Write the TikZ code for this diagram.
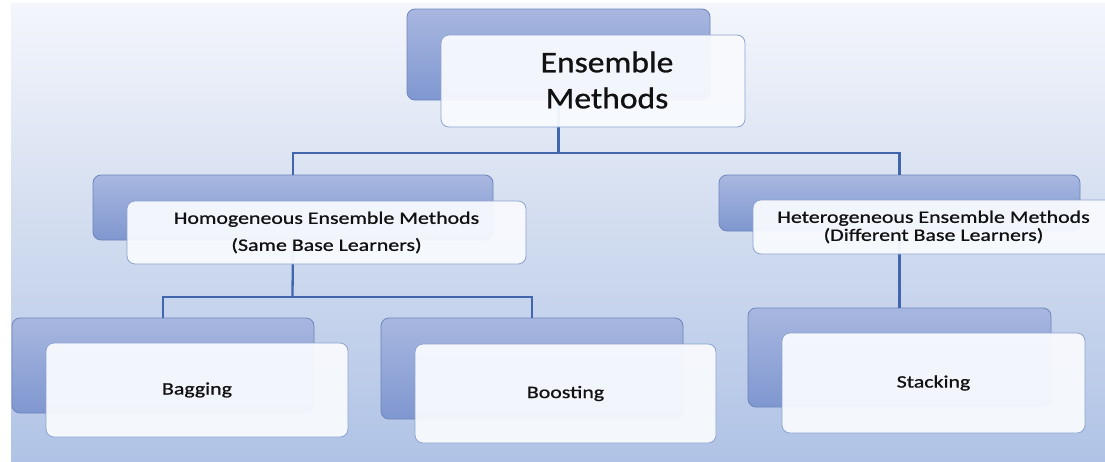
\documentclass[tikz,border=0pt]{standalone}
\usepackage{fontspec}
\setmainfont{Carlito}[FakeStretch=1.25, FakeBold=0.9]
\newfontfamily\rootfont{Carlito}[FakeStretch=1.12, FakeBold=0.9]
\definecolor{bgtop}{HTML}{F4F6FC}
\definecolor{bgmid}{HTML}{D1DCEF}
\definecolor{bgbot}{HTML}{B0C3E6}
\definecolor{backtop}{HTML}{A8B7E0}
\definecolor{backbot}{HTML}{7F97D0}
\definecolor{backline}{HTML}{6E84BA}
\definecolor{frontfill}{HTML}{F8FAFE}
\definecolor{frontline}{HTML}{8DA3D0}
\definecolor{connc}{HTML}{4266AE}
\definecolor{txt}{HTML}{111111}
\tikzset{
  backbox/.style={rectangle, rounded corners=8pt, draw=backline, line width=0.8pt,
    top color=backtop, bottom color=backbot, inner sep=0pt, outer sep=0pt, anchor=north west},
  frontbox/.style={rectangle, rounded corners=8pt, draw=frontline, line width=0.8pt,
    fill=frontfill, fill opacity=0.95, text opacity=1, text=txt, inner sep=0pt, outer sep=0pt,
    anchor=north west, align=center},
  conn/.style={draw=connc, line width=2.3pt},
  small/.style={font=\fontsize{17.5}{27}\selectfont},
}
\begin{document}
\begin{tikzpicture}[x=1pt,y=-1pt]
\useasboundingbox (0,0) rectangle (1105,461);
\clip (0,0) rectangle (1105,461);
\shade[top color=bgtop, bottom color=bgbot, middle color=bgmid] (11,3) rectangle (1105,461);

% back boxes
\node[backbox, minimum width=303pt, minimum height=91pt] (rootB) at (407,9) {};
\node[backbox, minimum width=400pt, minimum height=65pt] (homB) at (93,175) {};
\node[backbox, minimum width=361pt, minimum height=56pt] (hetB) at (719,175) {};
\node[backbox, minimum width=302pt, minimum height=95pt] (bagB) at (12,318) {};
\node[backbox, minimum width=302pt, minimum height=101pt] (booB) at (381,318) {};
\node[backbox, minimum width=303pt, minimum height=99pt] (staB) at (748,308) {};

% connectors
\coordinate (j0) at (558.5,153);
\coordinate (j1) at (292.5,297);
\draw[conn] (rootB.south) -- (j0);
\draw[conn] (homB.north) |- (j0) -| (hetB.north);
\draw[conn] (homB.south) -- (j1);
\draw[conn] (bagB.north) |- (j1) -| (booB.north);
\draw[conn] (hetB.south) -- (staB.north);

% front boxes
\node[frontbox, minimum width=304pt, minimum height=92pt] (rootF) at (441,35) {};
\node[text=txt, align=center, font=\rootfont\fontsize{30}{36}\selectfont, inner sep=0pt] (rootT) at (607,80) {Ensemble\\Methods};
\node[frontbox, small, minimum width=399pt, minimum height=63pt] (homF) at (127,201)
  {Homogeneous Ensemble Methods\\(Same Base Learners)};
\node[frontbox, font=\fontsize{17.5}{18}\selectfont, minimum width=361pt, minimum height=54pt] (hetF) at (753,200)
  {Heterogeneous Ensemble Methods\\(Different Base Learners)};
\node[frontbox, small, minimum width=302pt, minimum height=94pt] (bagF) at (46,343) {Bagging};
\node[frontbox, small, minimum width=301pt, minimum height=99pt] (booF) at (415,344) {Boosting};
\node[frontbox, small, minimum width=303pt, minimum height=100pt] (staF) at (782,333) {Stacking};
\end{tikzpicture}
\end{document}
